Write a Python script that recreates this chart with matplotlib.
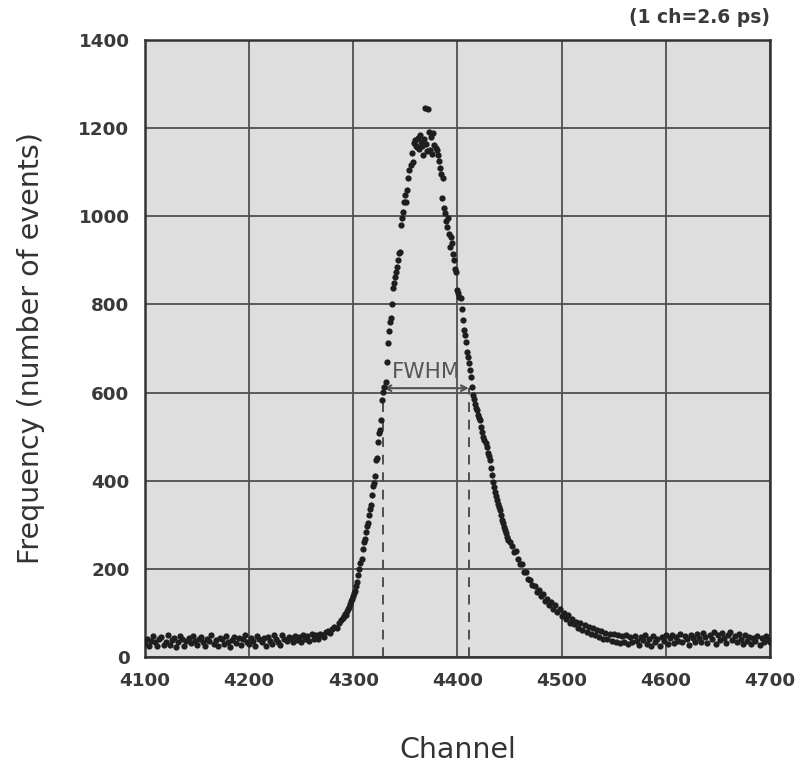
import numpy as np
import matplotlib
matplotlib.use("Agg")
import matplotlib.pyplot as plt

# ---- data (channel, number of events) ----
# left tail, every 2 channels from 4100
left_start = 4100
left_vals = [
    30, 42, 26, 37, 47, 33, 24, 40, 45, 28, 35, 50, 27, 38, 44, 22, 34, 47, 40, 26, 36, 43, 31, 48, 37,
    27, 40, 46, 33, 24, 42, 36, 49, 30, 38, 25, 44, 40, 29, 47, 35, 22, 38, 45, 32, 43, 27, 40, 50, 35,
    29, 44, 37, 25, 47, 40, 33, 43, 24, 46, 37, 30, 49, 40, 35, 27, 51, 42, 36, 45,
    43, 33, 48, 38, 46, 34, 50, 41, 48, 36, 52, 42, 50, 40, 53,
    50, 45, 56, 58, 55, 63, 68, 66, 77, 84,
]
# peak region, every channel from 4290
peak_start = 4290
peak_vals = [
    88, 92, 97, 95, 104, 110, 113, 120, 126, 131,            # 4290-4299
    138, 145, 150, 162, 170, 186, 200, 214, 222, 245,        # 4300-4309
    260, 268, 284, 297, 305, 322, 336, 346, 368, 388,        # 4310-4319
    395, 410, 447, 452, 488, 508, 515, 538, 583, 601,        # 4320-4329
    612, 625, 670, 712, 740, 760, 769, 800, 837, 848,        # 4330-4339
    862, 874, 885, 900, 917, 919, 980, 996, 1010, 1032,      # 4340-4349
    1048, 1032, 1060, 1087, 1105, 1116, 1143, 1123, 1166, 1173,  # 4350-4359
    1160, 1157, 1178, 1153, 1185, 1169, 1160, 1139, 1175, 1246,  # 4360-4369
    1165, 1147, 1243, 1191, 1150, 1180, 1142, 1189, 1162, 1155,  # 4370-4379
    1150, 1140, 1125, 1110, 1095, 1041, 1087, 1019, 1007, 990,   # 4380-4389
    976, 996, 960, 930, 953, 940, 915, 900, 880, 874,        # 4390-4399
    833, 826, 817, 815, 790, 765, 742, 730, 715, 692,        # 4400-4409
    680, 667, 651, 635, 613, 594, 585, 575, 565, 560,        # 4410-4419
    549, 542, 538, 522, 511, 500, 492, 485, 477, 463,        # 4420-4429
    455, 447, 430, 413, 398, 386, 375, 366, 356, 348,        # 4430-4439
    340, 334, 322, 312, 304, 296, 288, 281, 272, 266,        # 4440-4449
]
# right tail, every 2 channels from 4450
right_start = 4450
right_vals = [
    262, 252, 238, 240, 222, 212, 210, 194, 192, 176,
    175, 163, 162, 148, 153, 138, 142, 128, 132, 118,
    124, 108, 118, 102, 108, 94, 101, 86, 95, 78,
    86, 74, 80, 66, 78, 62, 72, 57, 68, 52,
    65, 49, 62, 45, 58, 42, 55, 40, 53, 36,
    52, 34, 49, 31, 47, 35, 50, 29, 46, 33,
    48, 36, 27, 45, 38, 50, 30, 42, 26, 47,
    33, 40, 25, 46, 37, 49, 30, 43, 51, 32,
    45, 36, 52, 33, 47, 40, 28, 50, 43, 34,
    53, 44, 35, 55, 46, 31, 51, 42, 56, 30,
    49, 38, 54, 44, 31, 50, 57, 39, 47, 33,
    53, 42, 30, 49, 37, 46, 29, 44, 36, 48,
    28, 43, 34, 47, 38, 33,
]

fwhm_left = 4329
fwhm_right = 4411
half_max = 610

x_ticks = [4100, 4200, 4300, 4400, 4500, 4600, 4700]
y_ticks = [0, 200, 400, 600, 800, 1000, 1200, 1400]

channels = np.concatenate([
    left_start + 2 * np.arange(len(left_vals)),
    peak_start + np.arange(len(peak_vals)),
    right_start + 2 * np.arange(len(right_vals)),
])
counts = np.array(left_vals + peak_vals + right_vals)

# ---- figure ----
fig = plt.figure(figsize=(8.0, 7.69), dpi=100)
ax = fig.add_axes([0.181, 0.1456, 0.7815, 0.8024])
ax.set_facecolor("#dedede")

ax.set_xlim(4100, 4700)
ax.set_ylim(0, 1400)
ax.set_xticks(x_ticks)
ax.set_yticks(y_ticks)
ax.grid(True, color="#505050", lw=1.3, zorder=1)
ax.set_axisbelow(True)
for s in ax.spines.values():
    s.set_color("#333333")
    s.set_linewidth(1.8)
ax.tick_params(length=0, pad=11, labelsize=13.2, labelcolor="#3a3a3a")
for lab in ax.get_xticklabels() + ax.get_yticklabels():
    lab.set_fontweight("bold")

# FWHM marks
for xv in (fwhm_left, fwhm_right):
    ax.plot([xv, xv], [0, half_max], ls=(0, (5, 4)), color="#505050", lw=1.4, zorder=2)
ax.annotate("", xy=(fwhm_right, half_max), xytext=(fwhm_left, half_max),
            arrowprops=dict(arrowstyle="<->", color="#505050", lw=1.5,
                            shrinkA=0, shrinkB=0, mutation_scale=10), zorder=3)
ax.text((fwhm_left + fwhm_right) / 2, half_max + 15, "FWHM", ha="center", va="bottom",
        fontsize=15.5, color="#555555", zorder=4)

ax.plot(channels, counts, ls="none", marker="o", ms=4.5, mew=0,
        color="#1e1e1e", zorder=5)

ax.set_xlabel("Channel", fontsize=20.5, color="#333333", labelpad=33)
ax.set_ylabel("Frequency (number of events)", fontsize=20.5, color="#333333", labelpad=24)

fig.text(0.9625, 0.977, "(1 ch=2.6 ps)", ha="right", va="center",
         fontsize=13.5, fontweight="bold", color="#3a3a3a")

fig.savefig("out.png", dpi=100)
